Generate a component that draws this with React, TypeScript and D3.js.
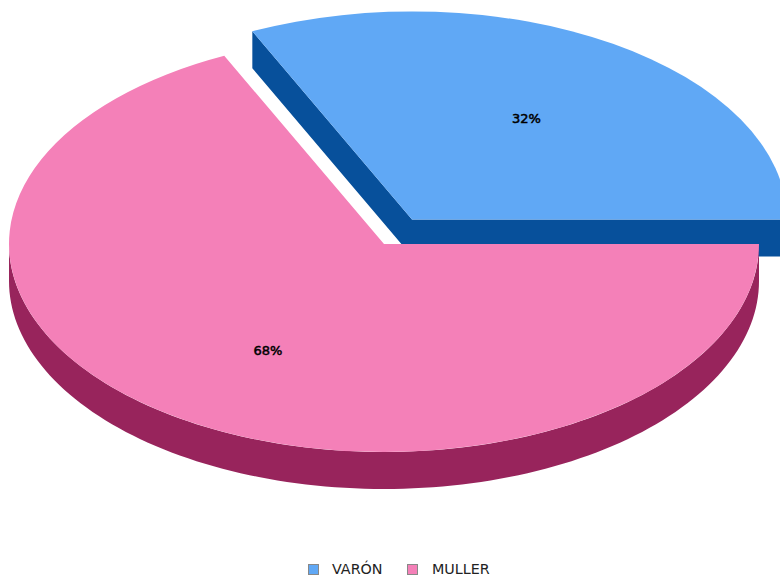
import React from "react";
import * as d3 from "d3";

const categories = ["VARÓN", "MULLER"];
const values = [32, 68];
const labels = ["32%", "68%"];
const topColors = ["#60a8f5", "#f480b8"];
const sideColors = ["#07509b", "#98245c"];

const W = 780, H = 581;
const RX = 375, RY = 208, DEPTH = 37;
const centers = [
  { x: 412, y: 219.5 },
  { x: 384, y: 244 },
];
const labelPos = [
  { x: 526.5, y: 123 },
  { x: 268, y: 354.5 },
];

export default function App() {
  const pie = d3
    .pie<number>()
    .sort(null)
    .startAngle(Math.PI / 2 - (values[0] / 100) * 2 * Math.PI)
    .endAngle(Math.PI / 2 - (values[0] / 100) * 2 * Math.PI + 2 * Math.PI);
  const arcs = pie(values);
  const arc = d3.arc<any>().innerRadius(0).outerRadius(1);
  const sx = d3.scaleLinear().domain([-1, 1]).range([-RX, RX]);
  const sy = d3.scaleLinear().domain([-1, 1]).range([-RY, RY]);
  const pt = (a: number, r = 1): [number, number] => [sx(Math.sin(a) * r), sy(-Math.cos(a) * r)];

  const line = d3.line();
  // Blue slice: side faces along the cut edges
  const a0 = arcs[0];
  const blueWall = line([
    pt(a0.startAngle),
    [0, 0],
    pt(a0.endAngle),
    [pt(a0.endAngle)[0], pt(a0.endAngle)[1] + DEPTH],
    [0, DEPTH],
    [pt(a0.startAngle)[0], pt(a0.startAngle)[1] + DEPTH],
  ])! + "Z";

  // Pink slice: curved outer wall on the front half
  const a1 = arcs[1];
  const steps = d3.range(0, 121).map((i) => Math.PI / 2 + (Math.PI * i) / 120);
  const front = steps.map((a) => pt(a));
  const back = steps.slice().reverse().map((a) => {
    const p = pt(a);
    return [p[0], p[1] + DEPTH] as [number, number];
  });
  const pinkWall = line([...front, ...back])! + "Z";

  const slicePath = (d: any) => arc(d)!;

  return (
    <svg
      width={W}
      height={H}
      viewBox={`0 0 ${W} ${H}`}
      style={{ position: "absolute", left: 0, top: 0, background: "#fff" }}
    >
      <g transform={`translate(${centers[0].x},${centers[0].y})`}>
        <path d={blueWall} fill={sideColors[0]} />
        <g transform={`scale(${RX},${RY})`}>
          <path d={slicePath(a0)} fill={topColors[0]} />
        </g>
      </g>
      <g transform={`translate(${centers[1].x},${centers[1].y})`}>
        <path d={pinkWall} fill={sideColors[1]} />
        <g transform={`scale(${RX},${RY})`}>
          <path d={slicePath(a1)} fill={topColors[1]} />
        </g>
      </g>
      {labels.map((t, i) => (
        <text
          key={t}
          x={labelPos[i].x}
          y={labelPos[i].y}
          textAnchor="middle"
          fontFamily="'DejaVu Sans'"
          fontSize={13}
          fill="#000"
          stroke="#000"
          strokeWidth={0.5}
        >
          {t}
        </text>
      ))}
      {categories.map((c, i) => {
        const sq = [308.5, 407.5][i];
        const tx = [332, 432][i];
        return (
          <g key={c}>
            <rect x={sq} y={564.5} width={10} height={10} fill={topColors[i]} stroke="#888" strokeWidth={1} />
            <text x={tx} y={574} fontFamily="'DejaVu Sans'" fontSize={14.3} fill="#222">
              {c}
            </text>
          </g>
        );
      })}
    </svg>
  );
}
